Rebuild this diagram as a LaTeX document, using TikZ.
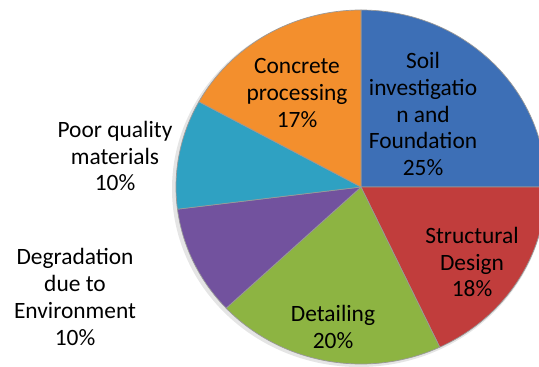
\documentclass[tikz,border=0pt]{standalone}
\usepackage{fontspec}
\setmainfont{Carlito}
\definecolor{soilblue}{RGB}{61,111,182}
\definecolor{designred}{RGB}{193,61,60}
\definecolor{detailgreen}{RGB}{141,180,66}
\definecolor{envpurple}{RGB}{114,82,158}
\definecolor{poorcyan}{RGB}{47,161,194}
\definecolor{concorange}{RGB}{243,143,45}

\begin{document}
\begin{tikzpicture}[x = 1bp, y = 1bp]
\tikzstyle{SliceStyle}=[draw = black!40,
                        line width = 0.7pt,
                        line join = round]
\tikzstyle{LabelStyle}=[align = center,
                        inner sep = 0pt,
                        font = \fontsize{23.5}{27}\selectfont]
\useasboundingbox (0,0) rectangle (539,366);
\coordinate (c) at (361,179);
\fill[black!10] (359,177) ellipse [x radius = 187, y radius = 178];
\filldraw[SliceStyle, fill = soilblue] (c) -- ++(90:185 and 177) arc [start angle = 90, end angle = 0, x radius = 185, y radius = 177] -- cycle;
\filldraw[SliceStyle, fill = designred] (c) -- ++(0:185 and 177) arc [start angle = 0, end angle = -64.8, x radius = 185, y radius = 177] -- cycle;
\filldraw[SliceStyle, fill = detailgreen] (c) -- ++(-64.8:185 and 177) arc [start angle = -64.8, end angle = -136.8, x radius = 185, y radius = 177] -- cycle;
\filldraw[SliceStyle, fill = envpurple] (c) -- ++(-136.8:185 and 177) arc [start angle = -136.8, end angle = -172.8, x radius = 185, y radius = 177] -- cycle;
\filldraw[SliceStyle, fill = poorcyan] (c) -- ++(-172.8:185 and 177) arc [start angle = -172.8, end angle = -208.8, x radius = 185, y radius = 177] -- cycle;
\filldraw[SliceStyle, fill = concorange] (c) -- ++(151.2:185 and 177) arc [start angle = 151.2, end angle = 90, x radius = 185, y radius = 177] -- cycle;
\node[LabelStyle] (soil) at (423,252) {Soil\\investigatio\\n and\\Foundation\\25\%};
\node[LabelStyle] (concrete) at (297,273) {Concrete\\processing\\17\%};
\node[LabelStyle] (structural) at (472,104) {Structural\\Design\\18\%};
\node[LabelStyle] (detailing) at (333,39) {Detailing\\20\%};
\node[LabelStyle] (poor) at (115,210) {Poor quality\\materials\\10\%};
\node[LabelStyle] (degradation) at (75,69) {Degradation\\due to\\Environment\\10\%};
\end{tikzpicture}
\end{document}
